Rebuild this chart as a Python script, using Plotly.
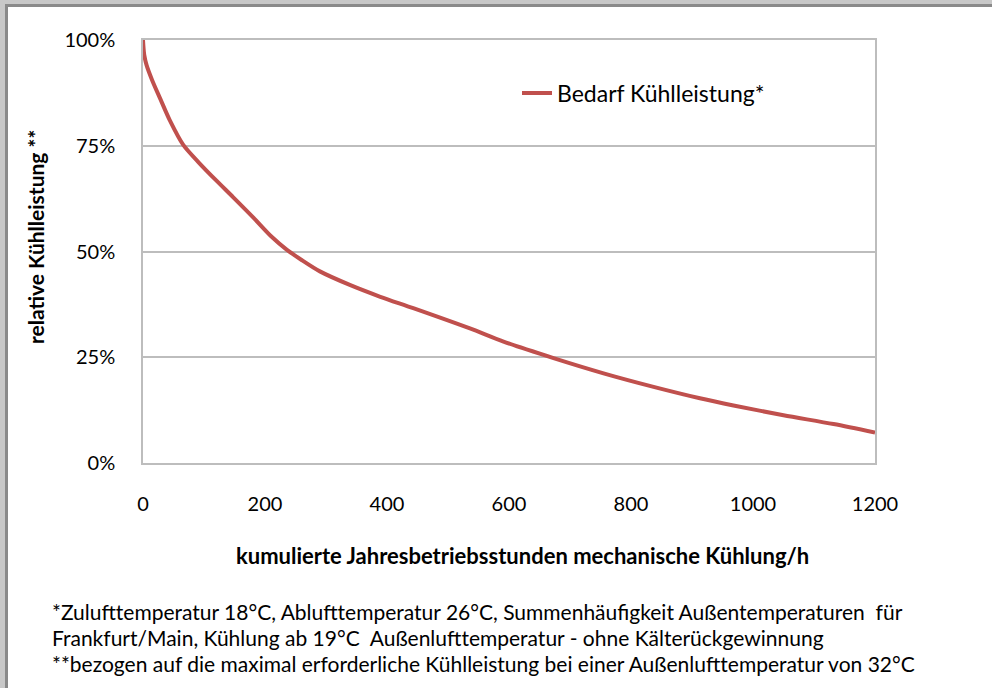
import plotly.graph_objects as go

# Data
hours = [0, 2, 6, 15, 28, 44, 66, 93, 120, 148, 181, 210, 236, 260, 290, 339, 389, 443,
         536, 591, 673, 755, 837, 913, 968, 1050, 1132, 1200]
rel_cooling = [1.00, 0.965, 0.94, 0.905, 0.862, 0.81, 0.752, 0.708, 0.668, 0.628,
               0.580, 0.536, 0.504, 0.480, 0.453, 0.421, 0.393, 0.366, 0.318, 0.287,
               0.248, 0.212, 0.180, 0.153, 0.136, 0.113, 0.092, 0.072]
series_name = "Bedarf Kühlleistung*"
x_ticks = [0, 200, 400, 600, 800, 1000, 1200]
y_ticks = [0, 0.25, 0.5, 0.75, 1.0]
x_title = "kumulierte Jahresbetriebsstunden mechanische Kühlung/h"
y_title = "relative Kühlleistung **"
footnotes = [
    "*Zulufttemperatur 18°C, Ablufttemperatur 26°C, Summenhäufigkeit Außentemperaturen  für",
    "Frankfurt/Main, Kühlung ab 19°C  Außenlufttemperatur - ohne Kälterückgewinnung",
    "**bezogen auf die maximal erforderliche Kühlleistung bei einer Außenlufttemperatur von 32°C",
]

W, H = 992, 688
L, R, T, B = 143, 875, 40, 463
FONT = "Lato"


def px(x):
    return (x - L) / (R - L)


def py(y):
    return (B - y) / (B - T)


fig = go.Figure()
fig.add_trace(go.Scatter(
    x=hours, y=rel_cooling, mode="lines", name=series_name,
    line=dict(color="#c0504d", width=4, shape="spline", smoothing=0.8),
))

shapes = [
    dict(type="rect", xref="paper", yref="paper", x0=px(0), x1=px(W), y0=py(0), y1=py(4),
         fillcolor="#c8c8c8", line=dict(width=0), layer="above"),
    dict(type="rect", xref="paper", yref="paper", x0=px(5), x1=px(W), y0=py(4), y1=py(7),
         fillcolor="#8a8a8a", line=dict(width=0), layer="above"),
    dict(type="rect", xref="paper", yref="paper", x0=px(0), x1=px(5), y0=py(0), y1=py(H),
         fillcolor="#c8c8c8", line=dict(width=0), layer="above"),
    dict(type="rect", xref="paper", yref="paper", x0=px(5), x1=px(8), y0=py(4), y1=py(H),
         fillcolor="#8a8a8a", line=dict(width=0), layer="above"),
]

annotations = []
for i, t in enumerate(footnotes):
    annotations.append(dict(
        text=t, xref="paper", yref="paper", x=px(50), y=py(611 + i * 26),
        xanchor="left", yanchor="middle", showarrow=False,
        font=dict(family=FONT, size=21, color="#000000"),
    ))
annotations.append(dict(
    text="<b>" + x_title + "</b>", xref="paper", yref="paper", x=px(522), y=py(555),
    xanchor="center", yanchor="middle", showarrow=False,
    font=dict(family=FONT, size=22, color="#000000"),
))
annotations.append(dict(
    text="<b>" + y_title + "</b>", xref="paper", yref="paper", x=px(35), y=py(237),
    xanchor="center", yanchor="middle", showarrow=False, textangle=-90,
    font=dict(family=FONT, size=21, color="#000000"),
))

fig.update_layout(
    width=W, height=H,
    margin=dict(l=L, r=W - R, t=T, b=H - B, pad=0),
    paper_bgcolor="white", plot_bgcolor="white",
    font=dict(family=FONT, size=20, color="#000000"),
    showlegend=True,
    legend=dict(x=px(517), y=py(93), xanchor="left", yanchor="middle",
                bgcolor="rgba(0,0,0,0)", font=dict(family=FONT, size=23, color="#000000")),
    shapes=shapes,
    annotations=annotations,
    xaxis=dict(
        range=[0, 1200], tickvals=x_ticks, ticktext=[str(v) for v in x_ticks],
        showgrid=False, zeroline=False, showline=True, mirror=True,
        linecolor="#bdbdbd", linewidth=1.5, ticks="", ticklabelstandoff=22,
        tickfont=dict(family=FONT, size=20, color="#000000"),
    ),
    yaxis=dict(
        range=[0, 1.0], tickvals=y_ticks, tickformat=".0%",
        showgrid=True, gridcolor="#bdbdbd", gridwidth=1.5, zeroline=False,
        showline=True, mirror=True, linecolor="#bdbdbd", linewidth=1.5,
        ticks="", ticklabelstandoff=22,
        tickfont=dict(family=FONT, size=20, color="#000000"),
    ),
)

fig.write_html("out.html", config={"displayModeBar": False},
               post_script="document.body.style.margin='0';")
